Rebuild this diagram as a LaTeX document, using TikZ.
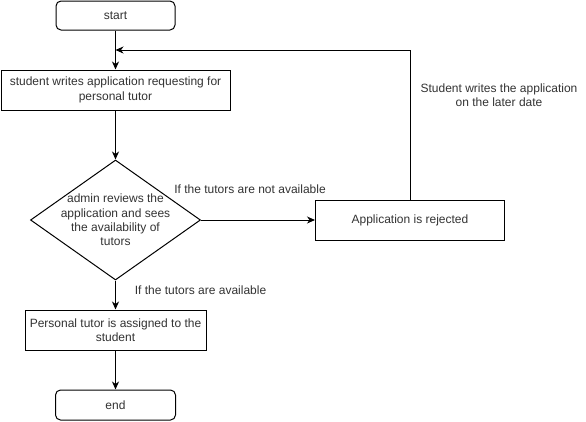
\documentclass[tikz,border=0pt]{standalone}
\usepackage{fontspec}
\setmainfont{Liberation Sans}
\usetikzlibrary{shapes.geometric,arrows.meta}
\begin{document}
\begin{tikzpicture}[x=1pt,y=-1pt,
  every node/.style={font=\fontsize{12}{14.3}\selectfont, text=black!80},
  box/.style={draw=black, line width=1pt, inner sep=0pt, align=center},
  term/.style={box, rounded corners=5pt},
  lbl/.style={align=center, inner sep=0pt},
  arr/.style={draw=black, line width=1pt, -{Stealth[length=8pt,width=7pt,inset=2.5pt]}}]
\useasboundingbox[fill=white] (0,0) rectangle (586,421);
\node[term, minimum width=119pt, minimum height=29pt] (start) at (115.5,15.5) {start};
\node[box, minimum width=229pt, minimum height=40pt] (write) at (115.5,90) {student writes application requesting for\\personal tutor};
\node[diamond, draw=black, line width=1pt, inner sep=0pt, minimum width=170pt, minimum height=120pt] (dec) at (115.5,220) {};
\node[lbl] (dectext) at (115.5,220) {admin reviews the\\application and sees\\the availability of\\tutors};
\node[box, minimum width=189pt, minimum height=40pt] (reject) at (410,220) {Application is rejected};
\node[box, minimum width=181pt, minimum height=40pt] (assign) at (115.5,330) {Personal tutor is assigned to the\\student};
\node[term, minimum width=120pt, minimum height=30pt] (end) at (115.5,405) {end};
\coordinate (loopend) at (115.5,50);
\draw[arr] (start.south) -- (write.north);
\draw[arr] (write.south) -- (dec.north);
\draw[arr] (dec.east) -- (reject.west);
\draw[arr] (dec.south) -- (assign.north);
\draw[arr] (assign.south) -- (end.north);
\draw[arr] (reject.north) |- (loopend);
\node[lbl] (lnot) at (250,189.5) {If the tutors are not available};
\node[lbl] (lyes) at (200.5,290) {If the tutors are available};
\node[lbl] (lloop) at (499,95) {Student writes the application\\on the later date};
\end{tikzpicture}
\end{document}
